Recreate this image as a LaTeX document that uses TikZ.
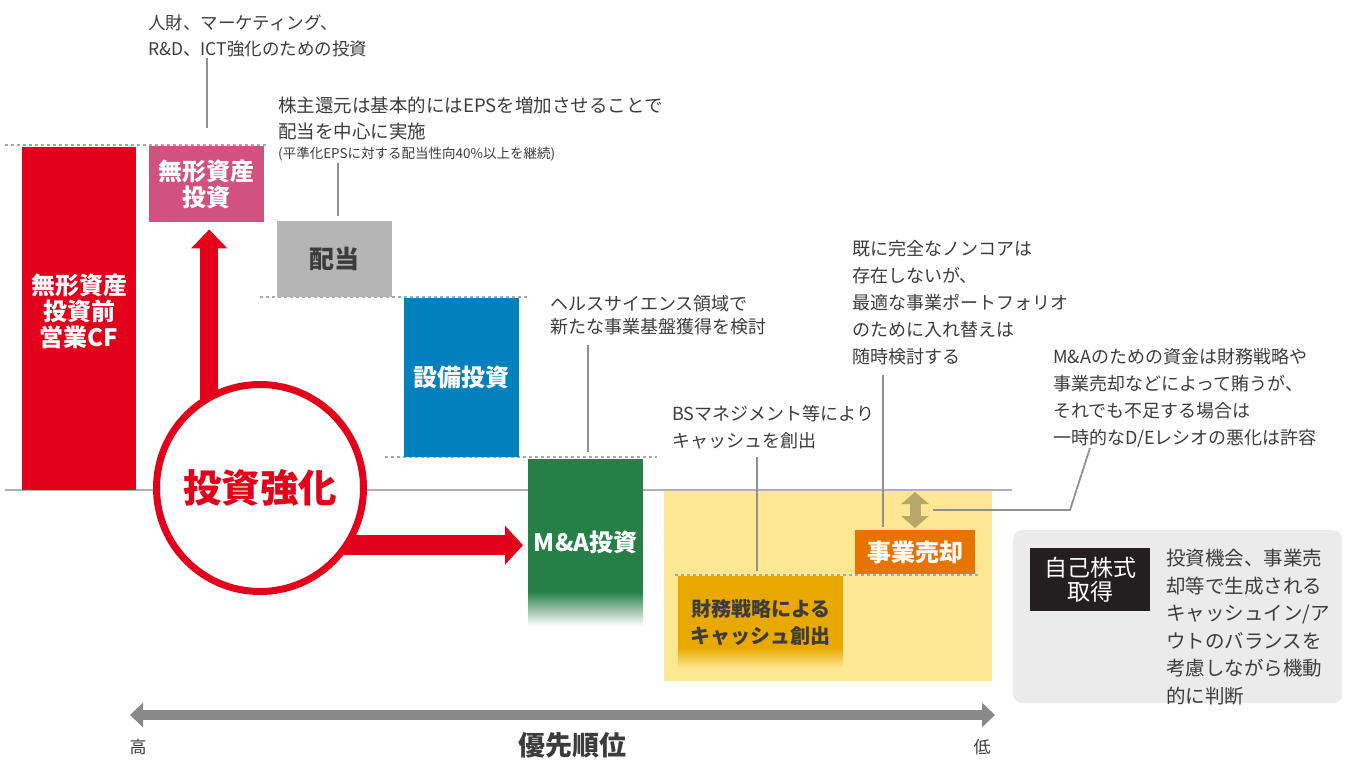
\documentclass[tikz,border=0pt]{standalone}
\usepackage{fontspec}
\setmainfont{Noto Sans CJK JP}
\usetikzlibrary{arrows.meta,calc}
\pgfdeclarelayer{bg}
\pgfsetlayers{bg,main}
\definecolor{redc}{HTML}{E3001B}
\definecolor{pinkc}{HTML}{D2527F}
\definecolor{grayb}{HTML}{B5B5B5}
\definecolor{bluec}{HTML}{0081BD}
\definecolor{greenc}{HTML}{267F47}
\definecolor{yellowbg}{HTML}{FDE793}
\definecolor{goldc}{HTML}{E8A800}
\definecolor{orangec}{HTML}{E87400}
\definecolor{tanc}{HTML}{B8A66A}
\definecolor{lightg}{HTML}{EBEBEB}
\definecolor{blackb}{HTML}{231F20}
\definecolor{txt}{HTML}{3C3C3C}
\definecolor{lineg}{HTML}{909090}
\definecolor{dotg}{HTML}{A8A8A8}
\definecolor{arrowg}{HTML}{898989}
\definecolor{baseg}{HTML}{B0B0B0}
\begin{document}
\begin{tikzpicture}[x=1pt,y=-1pt,
  box/.style={draw=none, inner sep=0pt, anchor=north west, align=center,
    font=\bfseries\fontsize{24}{26}\selectfont, text=white},
  lbl/.style={inner sep=0pt, align=center, text=white,
    font=\bfseries\fontsize{24}{26}\selectfont},
  ann/.style={inner sep=0pt, anchor=north west, align=left, text=txt,
    font=\fontsize{18}{26}\selectfont},
  conn/.style={draw=lineg, line width=1.8pt},
  dotl/.style={draw=dotg, line width=1.5pt, dash pattern=on 3pt off 3pt},
  redarr/.style={draw=redc, line width=#1},
]
\useasboundingbox (0,0) rectangle (1345,761);

% dotted guide lines
\draw[dotl] (5,145) -- (268,145);
\draw[dotl] (260,297) -- (530,297);
\draw[dotl] (385,457) -- (657,457);

% yellow region
\node[fill=yellowbg, inner sep=0pt, anchor=north west, minimum width=328pt, minimum height=190pt] (ybg) at (664,491) {};
\draw[dotl] (675,575) -- (980,575);

% baseline
\begin{pgfonlayer}{bg}
\draw[draw=baseg, line width=2pt] (5,490) -- (1012,490);
\end{pgfonlayer}

% boxes
\node[box, fill=redc, minimum width=114pt, minimum height=343pt] (cf) at (22,147) {};
\node[lbl] (cft) at (79,311) {無形資産\\投資前\\営業CF};
\node[box, fill=pinkc, minimum width=115pt, minimum height=76pt] (pink) at (149,146) {無形資産\\投資};
\node[box, fill=grayb, text=txt, minimum width=115pt, minimum height=76pt, font=\bfseries\fontsize{25}{26}\selectfont] (haitou) at (277,221) {配当};
\node[box, fill=bluec, minimum width=115pt, minimum height=159pt] (setsubi) at (404,298) {設備投資};

% M&A box with fade
\fill[greenc] (528,459) rectangle (643,592);
\shade[top color=greenc, bottom color=white] (528,591.5) rectangle (643,626);
\node[box, minimum width=115pt, minimum height=167pt] (mabox) at (528,459) {M\&A投資};

% financial strategy box with fade
\fill[goldc] (678,576) rectangle (843,648);
\shade[top color=goldc, bottom color=yellowbg] (678,647.5) rectangle (843,668);
\node[box, text=txt, minimum width=165pt, minimum height=92pt, font=\bfseries\fontsize{20}{27}\selectfont] (gold) at (678,576) {財務戦略による\\キャッシュ創出};

% business divestiture
\node[box, fill=orangec, minimum width=120pt, minimum height=44pt] (sell) at (855,530) {事業売却};

% circle
\node[circle, draw=redc, line width=7pt, fill=white, minimum size=207pt, inner sep=0pt,
  text=redc, font=\bfseries\fontsize{38.5}{40}\selectfont] (circ) at (260,488) {投資強化};

% red arrows (behind circle)
\begin{pgfonlayer}{bg}
\draw[redarr=18pt, -{Triangle[width=35pt,length=19pt]}] ([xshift=2.5pt]pink.south |- circ.center) -- ([xshift=2.5pt,yshift=-7pt]pink.south);
\draw[redarr=20pt, -{Triangle[width=38pt,length=18pt]}] ([yshift=-2.5pt]mabox.west -| circ.center) -- ([xshift=-5pt,yshift=-2.5pt]mabox.west);
\end{pgfonlayer}

% annotations
\node[ann, font=\fontsize{17.5}{25.5}\selectfont] (ann1) at (148,15) {人財、マーケティング、\\R\&D、ICT強化のための投資};
\node[ann, font=\fontsize{18.5}{26}\selectfont] (ann2) at (278,97) {株主還元は基本的にはEPSを増加させることで\\配当を中心に実施};
\node[ann, font=\fontsize{13.5}{15}\selectfont] (ann2s) at (278,147) {(平準化EPSに対する配当性向40\%以上を継続)};
\node[ann, font=\fontsize{18}{23.5}\selectfont] (ann3) at (550,295) {ヘルスサイエンス領域で\\新たな事業基盤獲得を検討};
\node[ann, font=\fontsize{18}{27}\selectfont] (ann4) at (672,405) {BSマネジメント等により\\キャッシュを創出};
\node[ann, font=\fontsize{18}{27}\selectfont] (ann5) at (852,240) {既に完全なノンコアは\\存在しないが、\\最適な事業ポートフォリオ\\のために入れ替えは\\随時検討する};
\node[ann, font=\fontsize{18}{27}\selectfont] (ann6) at (1053,348) {M\&Aのための資金は財務戦略や\\事業売却などによって賄うが、\\それでも不足する場合は\\一時的なD/Eレシオの悪化は許容};

% connector start points
\coordinate (c1) at (207,58);
\coordinate (c2) at (338,163);
\coordinate (c3) at (588,345);
\coordinate (c4) at (757,457);
\coordinate (c5) at (883,375);
\draw[conn] (c1) -- ([yshift=18pt]c1 |- pink.north);
\draw[conn] (c2) -- ([yshift=5pt]c2 |- haitou.north);
\draw[conn] (c3) -- ([yshift=7pt]c3 |- mabox.north);
\draw[conn] (c4) -- ([yshift=5pt]c4 |- gold.north);
\draw[conn] (c5) -- ([yshift=3pt]c5 |- sell.north);

% double arrow and its note
\coordinate (da1) at (915,492);
\coordinate (da2) at (915,528);
\draw[draw=tanc, line width=11pt, {Triangle[width=27pt,length=12pt]}-{Triangle[width=27pt,length=12pt]}] (da1) -- (da2);
\coordinate (c6a) at (933,510);
\coordinate (c6b) at (1090,448);
\draw[conn] (c6a) -- (1070,510) -- (c6b);

% buyback box
\node[fill=lightg, rounded corners=9pt, minimum width=329pt, minimum height=173pt, anchor=north west, inner sep=0pt] (gbox) at (1013,530) {};
\node[fill=blackb, text=white, minimum width=120pt, minimum height=63pt, anchor=north west, inner sep=0pt, align=center, font=\fontsize{23}{24.5}\selectfont] (jisha) at (1030,548) {自己株式\\取得};
\node[ann, font=\fontsize{19.5}{27.5}\selectfont] (gtext) at (1166,549) {投資機会、事業売\\却等で生成される\\キャッシュイン/ア\\ウトのバランスを\\考慮しながら機動\\的に判断};

% priority axis
\coordinate (hi) at (130,715);
\coordinate (lo) at (995,715);
\draw[draw=arrowg, line width=10pt, {Triangle[width=24pt,length=13pt]}-{Triangle[width=24pt,length=13pt]}] (hi) -- (lo);
\node[text=txt, inner sep=0pt, font=\fontsize{17}{17}\selectfont] (takai) at (138,747) {高};
\node[text=txt, inner sep=0pt, font=\fontsize{17}{17}\selectfont] (hikui) at (982,747) {低};
\node[text=txt, inner sep=0pt, font=\bfseries\fontsize{27}{27}\selectfont] (yuusen) at (572,745) {優先順位};
\end{tikzpicture}
\end{document}
